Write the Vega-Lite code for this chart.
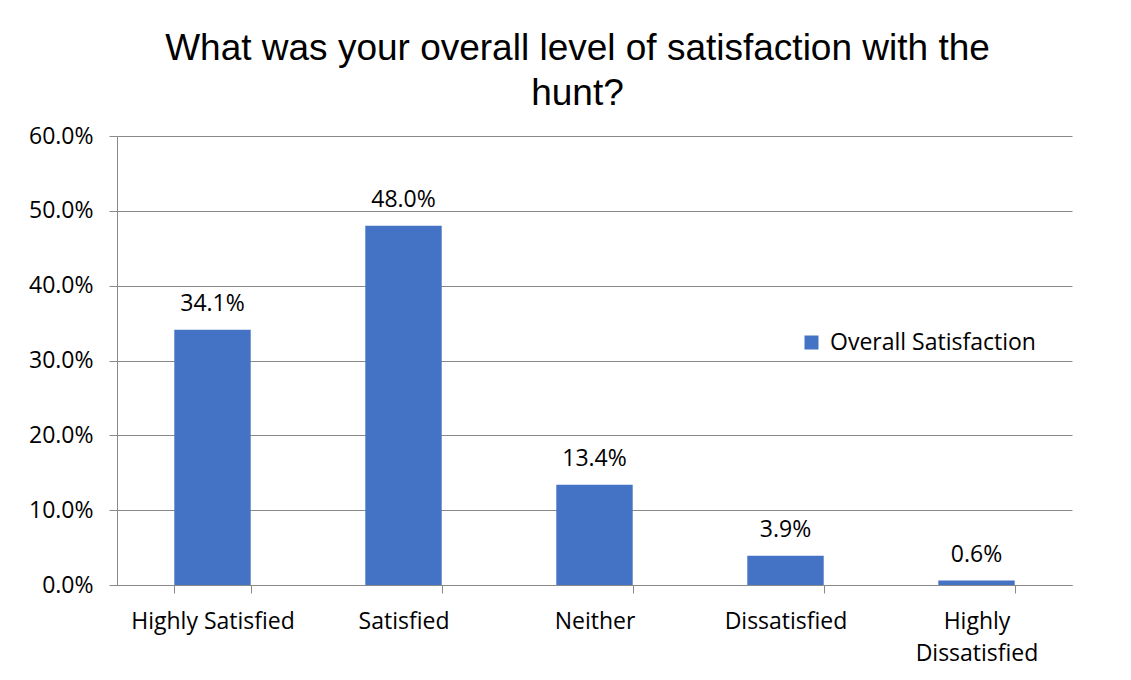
{
  "$schema": "https://vega.github.io/schema/vega-lite/v6.json",
  "width": 955,
  "height": 449,
  "autosize": {"type": "none"},
  "padding": {"left": 117, "top": 136, "right": 59, "bottom": 95},
  "background": "white",
  "title": {
    "text": ["What was your overall level of satisfaction with the", "hunt?"],
    "font": "Liberation Sans",
    "fontSize": 37,
    "fontWeight": "normal",
    "color": "#000000",
    "anchor": "middle",
    "dx": -17,
    "offset": 12,
    "lineHeight": 45
  },
  "data": {
    "values": [
      {"category": "Highly Satisfied", "value": 0.341, "series": "Overall Satisfaction"},
      {"category": "Satisfied", "value": 0.480, "series": "Overall Satisfaction"},
      {"category": "Neither", "value": 0.134, "series": "Overall Satisfaction"},
      {"category": "Dissatisfied", "value": 0.039, "series": "Overall Satisfaction"},
      {"category": "Highly Dissatisfied", "value": 0.006, "series": "Overall Satisfaction"}
    ]
  },
  "encoding": {
    "x": {
      "field": "category",
      "type": "nominal",
      "sort": null,
      "scale": {"paddingInner": 0.6, "paddingOuter": 0.3, "align": 0.5},
      "axis": {
        "title": null,
        "labelAngle": 0,
        "labelFont": "Open Sans",
        "labelFontSize": 23,
        "labelColor": "#000000",
        "labelPadding": 17,
        "labelLineHeight": 32,
        "labelLimit": 0,
        "labelExpr": "datum.label == 'Highly Dissatisfied' ? ['Highly', 'Dissatisfied'] : datum.label",
        "domainColor": "#898989",
        "tickColor": "#898989",
        "tickBand": "extent",
        "tickSize": 8,
        "grid": false
      }
    },
    "y": {
      "field": "value",
      "type": "quantitative",
      "scale": {"domain": [0, 0.6]},
      "axis": {
        "title": null,
        "format": ".1%",
        "values": [0, 0.1, 0.2, 0.3, 0.4, 0.5, 0.6],
        "labelFont": "Open Sans",
        "labelFontSize": 23,
        "labelColor": "#000000",
        "labelPadding": 16,
        "domainColor": "#898989",
        "tickColor": "#898989",
        "tickSize": 8,
        "gridColor": "#898989",
        "gridWidth": 1
      }
    }
  },
  "layer": [
    {
      "mark": {"type": "bar", "color": "#4472C4"},
      "encoding": {
        "color": {
          "field": "series",
          "type": "nominal",
          "scale": {"range": ["#4472C4"]},
          "legend": {
            "title": null,
            "orient": "none",
            "legendX": 683,
            "legendY": 195,
            "symbolType": "square",
            "symbolSize": 196,
            "symbolStrokeWidth": 0,
            "labelFont": "Open Sans",
            "labelFontSize": 23,
            "labelColor": "#000000",
            "labelOffset": 7,
            "labelLimit": 0
          }
        }
      }
    },
    {
      "mark": {"type": "text", "baseline": "bottom", "dy": -14, "font": "Open Sans", "fontSize": 23, "color": "#000000"},
      "encoding": {
        "text": {"field": "value", "type": "quantitative", "format": ".1%"}
      }
    }
  ],
  "config": {
    "view": {"stroke": null}
  }
}
